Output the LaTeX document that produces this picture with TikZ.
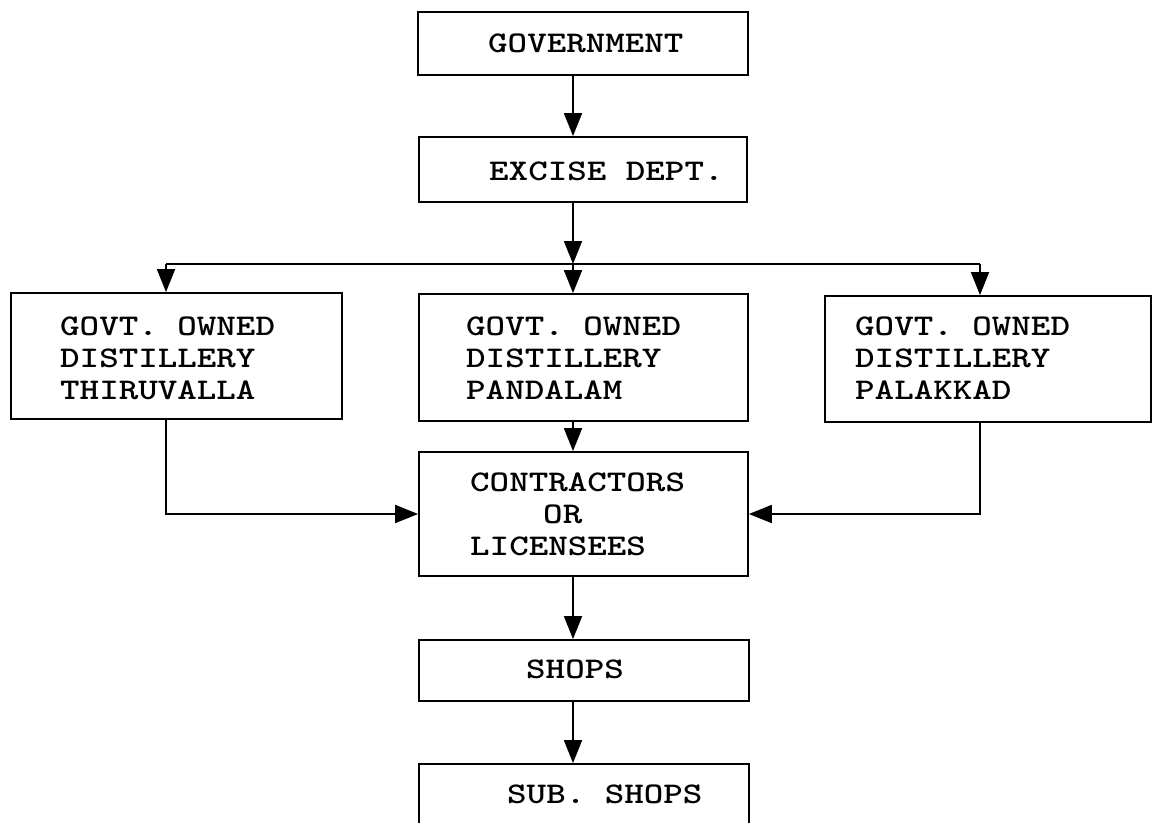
\documentclass[tikz,border=0pt]{standalone}
\usepackage{graphicx}
\usetikzlibrary{arrows.meta}
\tikzset{
  box/.style={draw, rectangle, line width=1.8pt, inner sep=0pt},
  lbl/.style={anchor=base west, inner sep=0pt, font=\ttfamily\bfseries\fontsize{30}{32}\selectfont},
  conn/.style={line width=1.8pt},
  arr/.style={conn, -{Triangle[length=23pt,width=18pt]}}
}
\newcommand{\txt}[1]{\scalebox{1.24}[1]{\begin{tabular}[t]{@{}l@{}}#1\end{tabular}}}
\begin{document}
\begin{tikzpicture}[x=1pt,y=-1pt]
\clip (0,0) rectangle (1153,822);
\fill[white] (0,0) rectangle (1153,822);
% boxes
\node[box, minimum width=330pt, minimum height=63pt] (gov) at (583,43.5) {};
\node[box, minimum width=328pt, minimum height=65pt] (exc) at (583,169.5) {};
\node[box, minimum width=331pt, minimum height=126pt] (thi) at (176.5,356) {};
\node[box, minimum width=329pt, minimum height=127pt] (pan) at (583.5,357.5) {};
\node[box, minimum width=326pt, minimum height=126pt] (pal) at (988,359) {};
\node[box, minimum width=329pt, minimum height=124pt] (con) at (583.5,514) {};
\node[box, minimum width=330pt, minimum height=61pt] (shops) at (584,670.5) {};
\node[box, minimum width=330pt, minimum height=76pt] (sub) at (584,802) {};
% texts
\node[lbl] (govt) at (488,52) {\txt{GOVERNMENT}};
\node[lbl] (exct) at (489,180) {\txt{EXCISE DEPT.}};
\node[lbl] (thit) at (60,335) {\txt{GOVT. OWNED\\DISTILLERY\\THIRUVALLA}};
\node[lbl] (pant) at (466,335) {\txt{GOVT. OWNED\\DISTILLERY\\PANDALAM}};
\node[lbl] (palt) at (855,335) {\txt{GOVT. OWNED\\DISTILLERY\\PALAKKAD}};
\node[lbl] (cont) at (470,491.5) {\txt{CONTRACTORS\\\hspace*{58.9pt}OR\\LICENSEES}};
\node[lbl] (shopst) at (526,678) {\txt{SHOPS}};
\node[lbl] (subt) at (507,803) {\txt{SUB. SHOPS}};
% connector points
\coordinate (spine) at (573,264);
\coordinate (lx) at (166,264);
\coordinate (rx) at (980,264);
% connectors
\draw[arr] (gov.south -| spine) -- (exc.north -| spine);
\draw[arr] (exc.south -| spine) -- (spine);
\draw[conn] (lx) -- (rx);
\draw[arr] (lx) -- (thi.north -| lx);
\draw[arr] (spine) -- (pan.north -| spine);
\draw[arr] (rx) -- (pal.north -| rx);
\draw[arr] (pan.south -| spine) -- (con.north -| spine);
\draw[arr] (thi.south -| lx) |- (con.west);
\draw[arr] (pal.south -| rx) |- (con.east);
\draw[arr] (con.south -| spine) -- (shops.north -| spine);
\draw[arr] (shops.south -| spine) -- (sub.north -| spine);
\end{tikzpicture}
\end{document}
